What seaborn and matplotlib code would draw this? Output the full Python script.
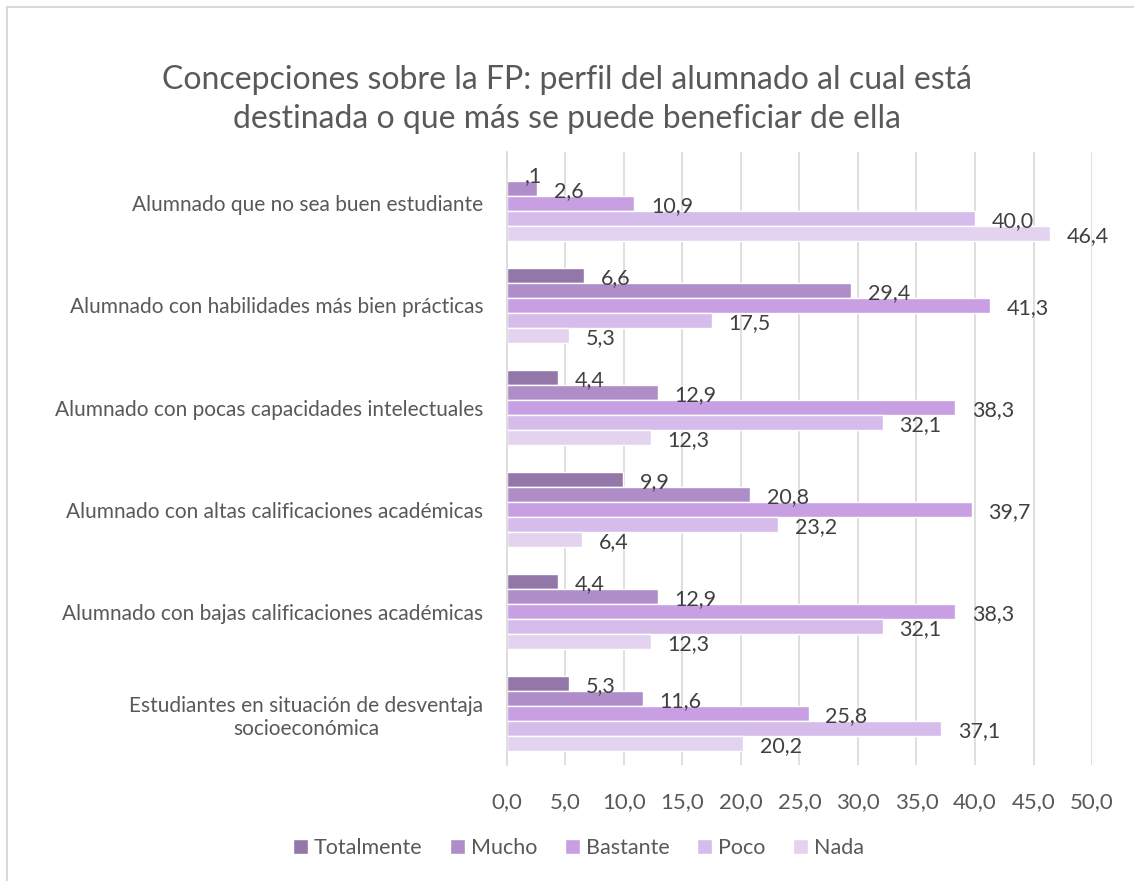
import matplotlib
matplotlib.use("Agg")
import matplotlib.pyplot as plt
import matplotlib.patches as patches
import pandas as pd
import seaborn as sns

# datos
categorias = [
    "Alumnado que no sea buen estudiante",
    "Alumnado con habilidades más bien prácticas",
    "Alumnado con pocas capacidades intelectuales",
    "Alumnado con altas calificaciones académicas",
    "Alumnado con bajas calificaciones académicas",
    "Estudiantes en situación de desventaja\nsocioeconómica",
]
niveles = ["Totalmente", "Mucho", "Bastante", "Poco", "Nada"]
totalmente = [0.1, 6.6, 4.4, 9.9, 4.4, 5.3]
mucho = [2.6, 29.4, 12.9, 20.8, 12.9, 11.6]
bastante = [10.9, 41.3, 38.3, 39.7, 38.3, 25.8]
poco = [40.0, 17.5, 32.1, 23.2, 32.1, 37.1]
nada = [46.4, 5.3, 12.3, 6.4, 12.3, 20.2]
ticks = [0, 5, 10, 15, 20, 25, 30, 35, 40, 45, 50]

colores = ["#9377A8", "#AF8DC8", "#C89FE2", "#D6BCEA", "#E3D3F0"]
gris = "#595959"

sns.set_theme(style="white")
plt.rcParams["font.family"] = ["Lato", "DejaVu Sans"]

rows = []
for serie, vals in zip(niveles, [totalmente, mucho, bastante, poco, nada]):
    for cat, v in zip(categorias, vals):
        rows.append({"Categoria": cat, "Nivel": serie, "Valor": v})
df = pd.DataFrame(rows)

fig = plt.figure(figsize=(11.34, 8.81), dpi=100)
ax = fig.add_axes([0.447, 0.132, 0.516, 0.695])

sns.barplot(data=df, x="Valor", y="Categoria", hue="Nivel", order=categorias,
            hue_order=niveles, palette=colores, orient="h", width=0.735,
            gap=0, saturation=1, ax=ax, legend=True)

def fmt(v):
    s = f"{v:.1f}".replace(".", ",")
    if s.startswith("0,"):
        s = s[1:]
    return s

for cont in ax.containers:
    for bar in cont:
        w = bar.get_width()
        y = bar.get_y() + bar.get_height() / 2
        ax.annotate(fmt(w), (w, y), xytext=(12, -2), textcoords="offset points",
                    ha="left", va="center", fontsize=15.5, color="#404040")

ax.set_xlim(0, 50)
ax.set_xticks(ticks)
ax.set_xticklabels([f"{t:.1f}".replace(".", ",") for t in ticks], fontsize=16, color=gris)
ax.tick_params(axis="y", labelsize=15, labelcolor=gris, length=0, pad=17)
ax.tick_params(axis="x", length=0, pad=20)
for lab in ax.get_yticklabels():
    lab.set_multialignment("center")
ax.set_xlabel("")
ax.set_ylabel("")
ax.grid(axis="x", color="#D9D9D9", linewidth=1.2)
ax.set_axisbelow(True)
for s in ["top", "right", "bottom"]:
    ax.spines[s].set_visible(False)
ax.spines["left"].set_color("#D9D9D9")
ax.spines["left"].set_linewidth(1.2)

handles, labels = ax.get_legend_handles_labels()
ax.get_legend().remove()
fig.legend(handles, labels, loc="center", bbox_to_anchor=(0.51, 0.037), ncol=5,
           frameon=False, fontsize=15.5, labelcolor=gris, handlelength=0.7,
           handleheight=0.7, handletextpad=0.25, columnspacing=1.3)

fig.text(0.5, 0.887, "Concepciones sobre la FP: perfil del alumnado al cual está\n"
         "destinada o que más se puede beneficiar de ella",
         ha="center", va="center", fontsize=23, color=gris, linespacing=1.35)

fig.patches.append(patches.Rectangle((0.0062, -0.01), 1.0, 1 - 0.0079 + 0.01,
                                     transform=fig.transFigure, fill=False,
                                     edgecolor="#D9D9D9", linewidth=1.5))

fig.savefig("out.png", dpi=100)
